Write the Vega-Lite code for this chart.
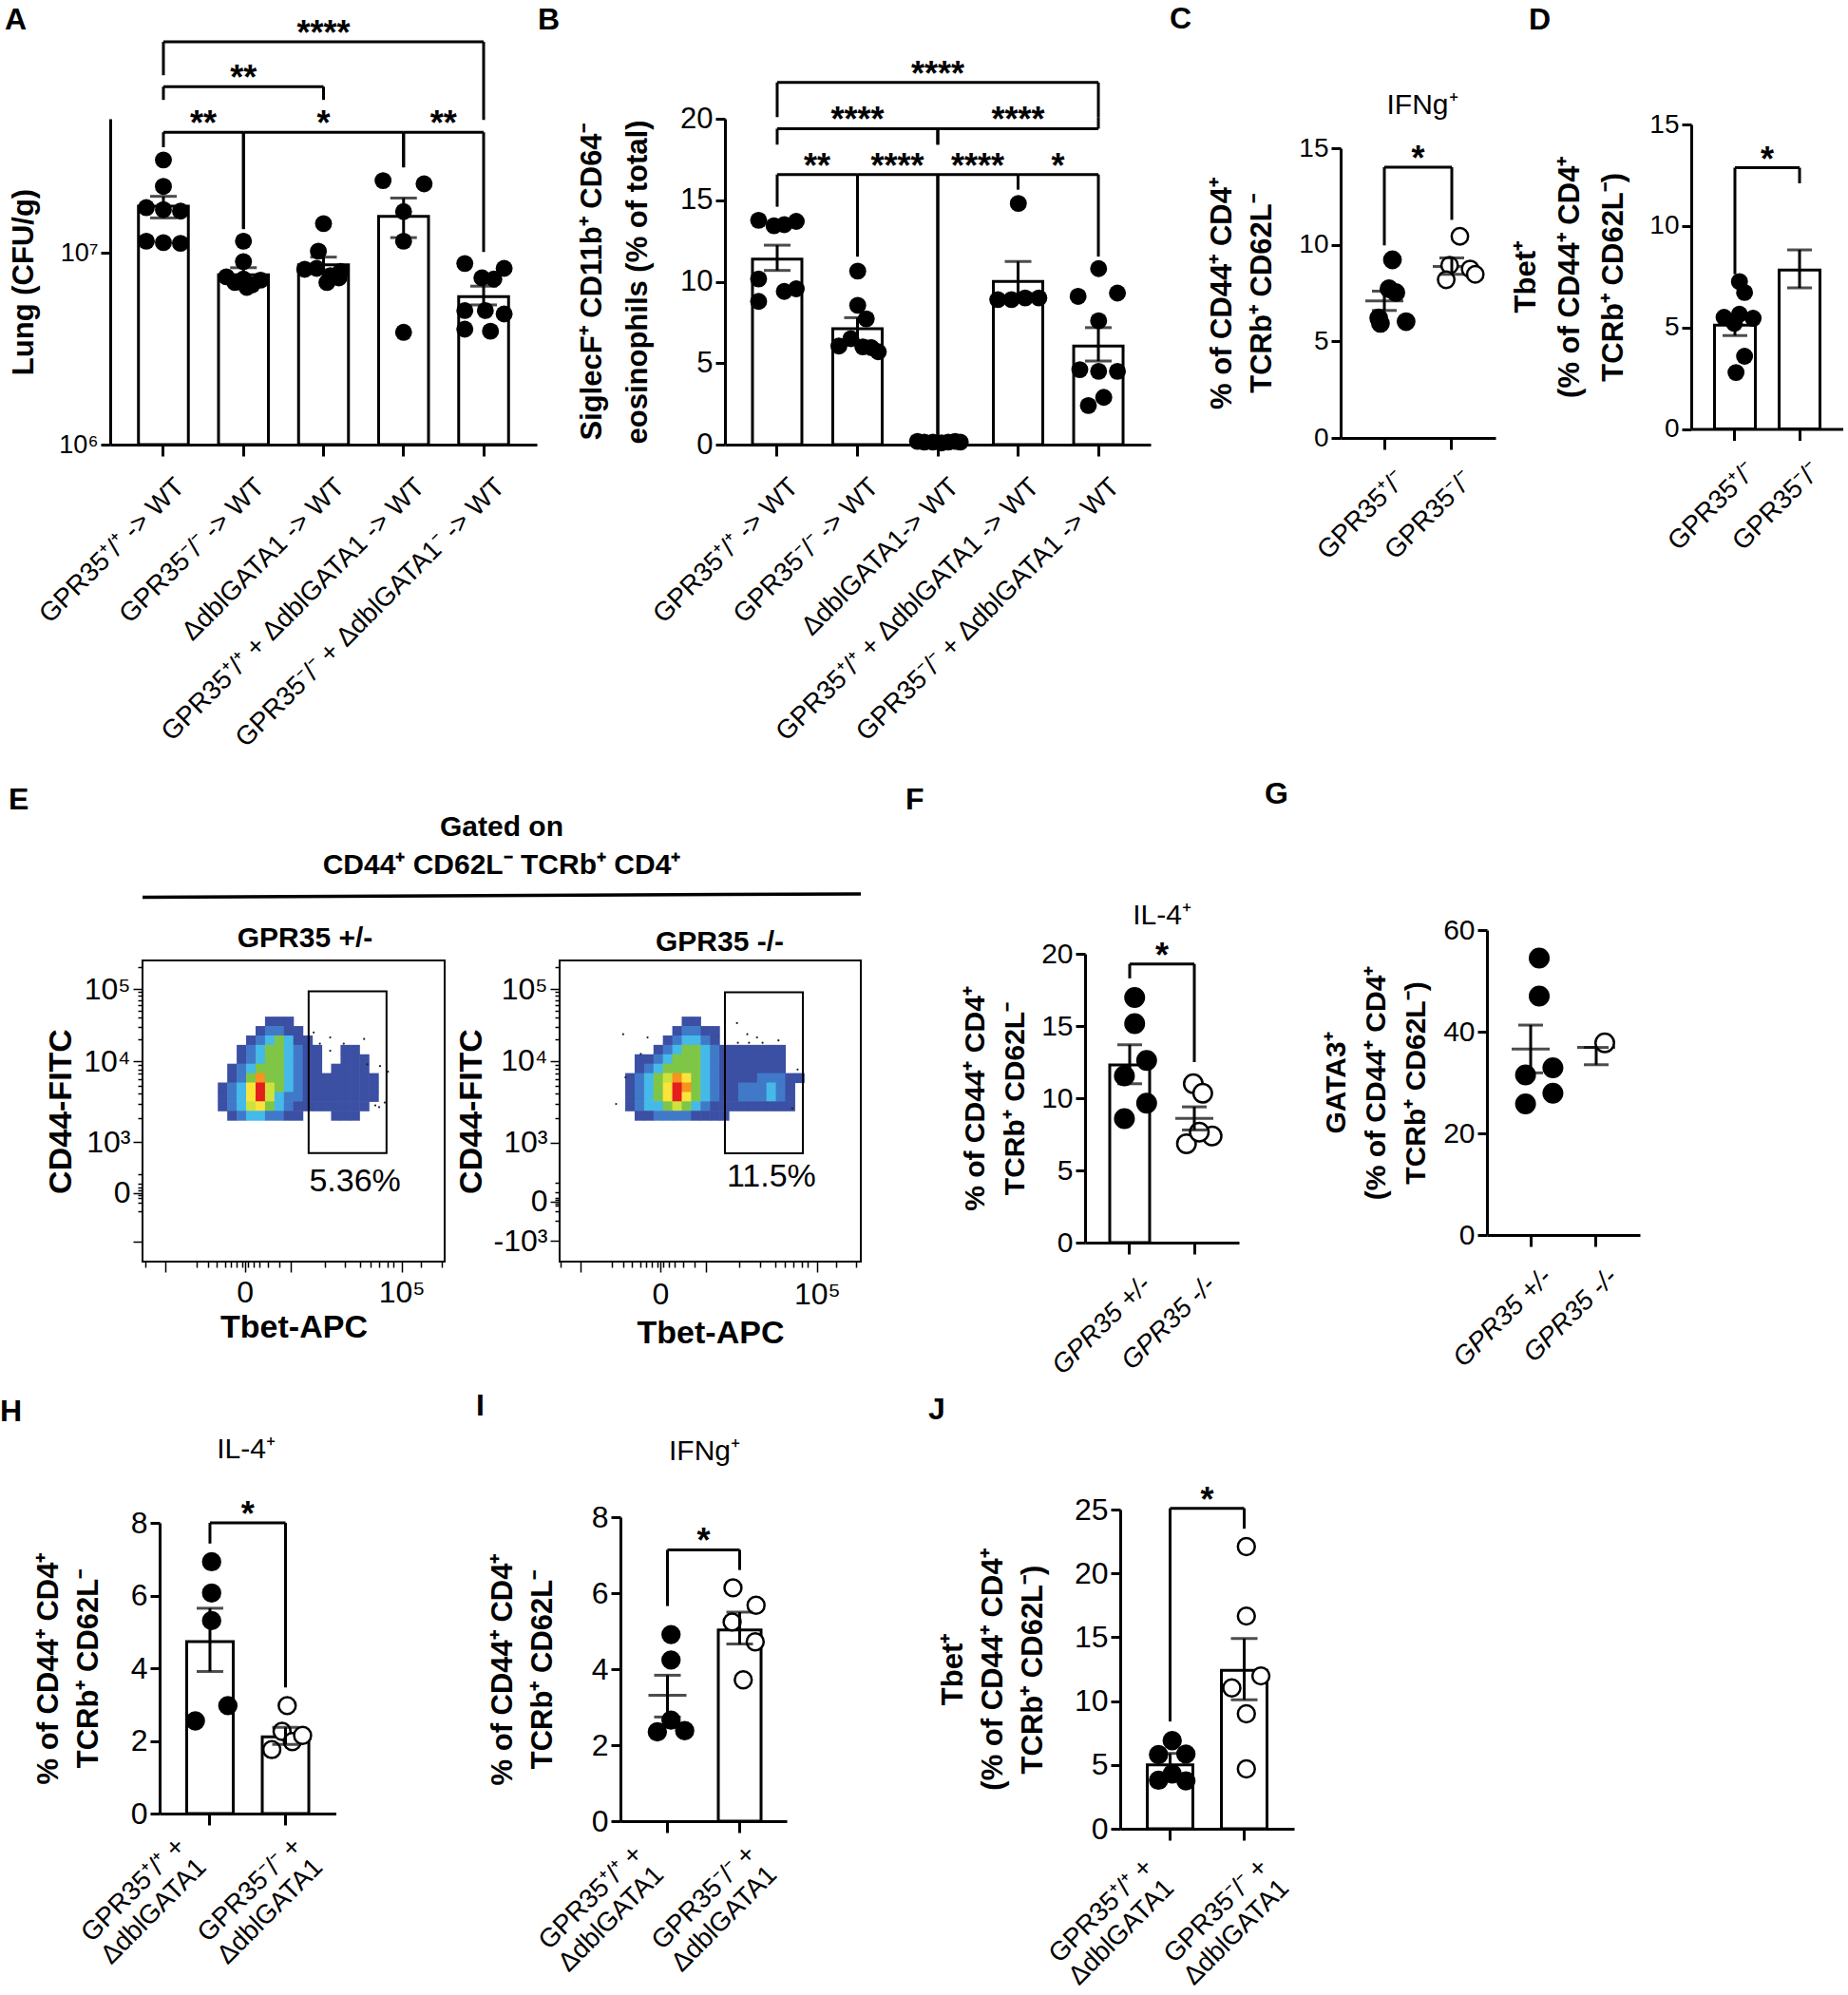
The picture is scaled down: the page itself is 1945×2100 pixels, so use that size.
{
"$schema": "https://vega.github.io/schema/vega-lite/v6.json",
"background": "white",
"padding": {"left": 0, "top": 4, "right": 0, "bottom": 0},
"bounds": "flush",
"spacing": 813,
"config": {
  "view": {"stroke": null},
  "font": "Liberation Sans",
  "axis": {"domainColor": "black", "domainWidth": 3, "tickColor": "black", "tickWidth": 3, "tickSize": 10, "labelColor": "black", "labelFont": "Liberation Sans", "titleFont": "Liberation Sans", "titleColor": "black", "titleFontWeight": "bold", "grid": false, "labelFlush": false, "labelOverlap": false, "labelBound": false, "labelPadding": 3, "labelLimit": 0},
  "title": {"font": "Liberation Sans", "color": "black", "fontWeight": "bold"},
  "text": {"font": "Liberation Sans", "color": "black"},
  "tick": {"color": "black"},
  "rule": {"color": "black"}
},
"datasets": {
  "A_pts": [
    {"g":"a1","v":30500000,"j":0},{"g":"a1","v":22200000,"j":0},{"g":"a1","v":17200000,"j":-1},{"g":"a1","v":16800000,"j":0},{"g":"a1","v":16500000,"j":1},{"g":"a1","v":11500000,"j":-1},{"g":"a1","v":11300000,"j":0},{"g":"a1","v":11200000,"j":1},
    {"g":"a2","v":11500000,"j":0},{"g":"a2","v":9000000,"j":0},{"g":"a2","v":7500000,"j":-1},{"g":"a2","v":7300000,"j":0},{"g":"a2","v":7200000,"j":1},{"g":"a2","v":7000000,"j":-0.5},{"g":"a2","v":6800000,"j":0.5},{"g":"a2","v":6600000,"j":0.2},
    {"g":"a3","v":14200000,"j":0},{"g":"a3","v":10200000,"j":-0.3},{"g":"a3","v":8200000,"j":-1.1},{"g":"a3","v":8300000,"j":-0.4},{"g":"a3","v":8000000,"j":1},{"g":"a3","v":7600000,"j":0.4},{"g":"a3","v":7400000,"j":0.9},{"g":"a3","v":7000000,"j":0.2},
    {"g":"a4","v":23800000,"j":-1.2},{"g":"a4","v":22900000,"j":1.2},{"g":"a4","v":16400000,"j":0},{"g":"a4","v":11500000,"j":0},{"g":"a4","v":3850000,"j":0},
    {"g":"a5","v":8800000,"j":-1.1},{"g":"a5","v":8300000,"j":1.2},{"g":"a5","v":7400000,"j":-0.1},{"g":"a5","v":7300000,"j":0.6},{"g":"a5","v":5000000,"j":-1.1},{"g":"a5","v":5000000,"j":0.1},{"g":"a5","v":4800000,"j":1.2},{"g":"a5","v":4000000,"j":-1.1},{"g":"a5","v":3900000,"j":0.4}
  ],
  "A_bar": [
    {"g":"a1","m":17500000,"lo":15200000,"hi":19700000},{"g":"a2","m":7670000,"lo":6900000,"hi":8360000},{"g":"a3","m":8660000,"lo":7800000,"hi":9500000},{"g":"a4","m":15500000,"lo":12000000,"hi":19300000},{"g":"a5","m":5900000,"lo":5350000,"hi":6700000}
  ],
  "A_br": [
    {"g1":"a1","g2":"a2","top":42500000,"b1":35500000,"b2":13300000,"s":"**","mid":""},
    {"g1":"a2","g2":"a4","top":42500000,"b1":13300000,"b2":27900000,"s":"*","mid":"a3"},
    {"g1":"a4","g2":"a5","top":42500000,"b1":27900000,"b2":10100000,"s":"**","mid":""},
    {"g1":"a1","g2":"a3","top":73500000,"b1":62700000,"b2":62700000,"s":"**","mid":"a2"},
    {"g1":"a1","g2":"a5","top":126000000,"b1":84300000,"b2":49300000,"s":"****","mid":"a3"}
  ],
  "B_pts": [
    {"g":"b1","v":13.77,"j":-1.1},{"g":"b1","v":13.43,"j":-0.2},{"g":"b1","v":13.5,"j":0.4},{"g":"b1","v":13.7,"j":1.1},{"g":"b1","v":10.17,"j":-1.1},{"g":"b1","v":8.79,"j":-1.1},{"g":"b1","v":9.4,"j":0.4},{"g":"b1","v":9.56,"j":1.1},
    {"g":"b2","v":10.65,"j":0},{"g":"b2","v":8.55,"j":0},{"g":"b2","v":7.72,"j":0.5},{"g":"b2","v":6.05,"j":-1.1},{"g":"b2","v":6.5,"j":-0.4},{"g":"b2","v":6.0,"j":0.3},{"g":"b2","v":5.7,"j":1.2},{"g":"b2","v":5.95,"j":0.8},
    {"g":"b3","v":0.2,"j":-1.2},{"g":"b3","v":0.15,"j":-0.8},{"g":"b3","v":0.15,"j":-0.3},{"g":"b3","v":0.1,"j":0.2},{"g":"b3","v":0.15,"j":0.6},{"g":"b3","v":0.2,"j":1.0},{"g":"b3","v":0.15,"j":1.3},
    {"g":"b4","v":14.8,"j":0},{"g":"b4","v":8.9,"j":-1.2},{"g":"b4","v":8.9,"j":-0.4},{"g":"b4","v":9.0,"j":0.4},{"g":"b4","v":9.0,"j":1.2},
    {"g":"b5","v":10.8,"j":0},{"g":"b5","v":9.1,"j":-1.2},{"g":"b5","v":9.3,"j":1.1},{"g":"b5","v":7.6,"j":0},{"g":"b5","v":4.6,"j":-1.1},{"g":"b5","v":4.5,"j":0},{"g":"b5","v":4.5,"j":1.1},{"g":"b5","v":2.4,"j":-0.6},{"g":"b5","v":2.9,"j":0.3}
  ],
  "B_bar": [
    {"g":"b1","m":11.39,"lo":10.69,"hi":12.24},{"g":"b2","m":7.11,"lo":6.35,"hi":7.79},{"g":"b3","m":0.15,"lo":0.1,"hi":0.2},{"g":"b4","m":10.02,"lo":8.9,"hi":11.24},{"g":"b5","m":6.05,"lo":5.13,"hi":7.18}
  ],
  "B_br": [
    {"g1":"b1","g2":"b2","top":16.58,"b1":14.6,"b2":11.54,"s":"**","mid":""},
    {"g1":"b2","g2":"b3","top":16.58,"b1":11.54,"b2":0.3,"s":"****","mid":""},
    {"g1":"b3","g2":"b4","top":16.58,"b1":0.3,"b2":15.66,"s":"****","mid":""},
    {"g1":"b4","g2":"b5","top":16.58,"b1":15.66,"b2":11.54,"s":"*","mid":""},
    {"g1":"b1","g2":"b3","top":19.39,"b1":18.41,"b2":18.41,"s":"****","mid":"b2"},
    {"g1":"b3","g2":"b5","top":19.39,"b1":18.41,"b2":20.1,"s":"****","mid":"b4"},
    {"g1":"b1","g2":"b5","top":22.23,"b1":20.1,"b2":20.1,"s":"****","mid":"b3"}
  ],
  "C_pts": [
    {"g":"c1","v":9.22,"j":0},{"g":"c1","v":7.72,"j":-0.2},{"g":"c1","v":7.53,"j":0.2},{"g":"c1","v":6.21,"j":-0.8},{"g":"c1","v":5.93,"j":-0.7},{"g":"c1","v":6.02,"j":0.8},
    {"g":"c2","v":10.44,"j":0},{"g":"c2","v":8.94,"j":-0.6},{"g":"c2","v":8.75,"j":0.6},{"g":"c2","v":8.19,"j":-0.8},{"g":"c2","v":8.47,"j":0.9}
  ],
  "C_mean": [{"g":"c1","m":7.1,"lo":6.6,"hi":7.6},{"g":"c2","m":8.88,"lo":8.47,"hi":9.32}],
  "D_pts": [
    {"g":"c1","v":7.26,"j":0},{"g":"c1","v":6.72,"j":0.3},{"g":"c1","v":5.5,"j":-0.9},{"g":"c1","v":5.65,"j":0},{"g":"c1","v":5.45,"j":0.8},{"g":"c1","v":5.2,"j":-0.3},{"g":"c1","v":3.58,"j":0.3},{"g":"c1","v":2.78,"j":-0.2}
  ],
  "D_bar": [{"g":"c1","m":5.11,"lo":4.6,"hi":5.6},{"g":"c2","m":7.83,"lo":6.95,"hi":8.82}],
  "F_pts": [
    {"g":"f1","v":16.97,"j":0},{"g":"f1","v":15.17,"j":0},{"g":"f1","v":12.62,"j":0.7},{"g":"f1","v":11.54,"j":-0.6},{"g":"f1","v":9.66,"j":0.7},{"g":"f1","v":8.59,"j":-0.6},
    {"g":"f2","v":11.0,"j":-0.35},{"g":"f2","v":10.34,"j":0.2},{"g":"f2","v":6.85,"j":-0.75},{"g":"f2","v":7.38,"j":0.75},{"g":"f2","v":7.65,"j":0}
  ],
  "F_bar": [{"g":"f1","m":12.3,"lo":11.0,"hi":13.7}],
  "F_mean": [{"g":"f2","m":8.6,"lo":7.8,"hi":9.4}],
  "G_pts": [
    {"g":"f1","v":54.5,"j":0},{"g":"f1","v":47.0,"j":0},{"g":"f1","v":31.5,"j":-0.8},{"g":"f1","v":32.9,"j":0.8},{"g":"f1","v":27.9,"j":0.8},{"g":"f1","v":25.8,"j":-0.8},
    {"g":"f2","v":37.8,"j":0}
  ],
  "G_mean": [{"g":"f1","m":36.6,"lo":31.9,"hi":41.3},{"g":"f2","m":36.9,"lo":33.5,"hi":36.9}],
  "H_pts": [
    {"g":"h1","v":6.93,"j":0},{"g":"h1","v":6.07,"j":0},{"g":"h1","v":5.31,"j":0},{"g":"h1","v":2.97,"j":0.95},{"g":"h1","v":2.55,"j":-0.95},
    {"g":"h2","v":2.97,"j":0},{"g":"h2","v":1.76,"j":-0.9},{"g":"h2","v":2.26,"j":-0.3},{"g":"h2","v":1.98,"j":0.3},{"g":"h2","v":2.15,"j":0.9}
  ],
  "H_bar": [{"g":"h1","m":4.73,"lo":3.91,"hi":5.65},{"g":"h2","m":2.11,"lo":1.9,"hi":2.37}],
  "I_pts": [
    {"g":"h1","v":4.91,"j":0},{"g":"h1","v":4.24,"j":0},{"g":"h1","v":2.66,"j":0},{"g":"h1","v":2.35,"j":-0.8},{"g":"h1","v":2.38,"j":0.8},
    {"g":"h2","v":6.14,"j":-0.6},{"g":"h2","v":5.68,"j":0.75},{"g":"h2","v":5.24,"j":-0.65},{"g":"h2","v":4.72,"j":0.7},{"g":"h2","v":3.72,"j":0}
  ],
  "I_bar": [{"g":"h2","m":5.03,"lo":4.66,"hi":5.5}],
  "I_mean": [{"g":"h1","m":3.31,"lo":2.74,"hi":3.84}],
  "J_pts": [
    {"g":"h1","v":6.9,"j":0},{"g":"h1","v":5.8,"j":-0.8},{"g":"h1","v":5.85,"j":0.8},{"g":"h1","v":3.8,"j":-0.8},{"g":"h1","v":3.75,"j":0.8},{"g":"h1","v":4.3,"j":0},
    {"g":"h2","v":22.1,"j":0},{"g":"h2","v":16.66,"j":0},{"g":"h2","v":11.97,"j":0.85},{"g":"h2","v":11.03,"j":-0.85},{"g":"h2","v":9.0,"j":0},{"g":"h2","v":4.69,"j":0}
  ],
  "J_bar": [{"g":"h1","m":5.0,"lo":4.2,"hi":5.9},{"g":"h2","m":12.4,"lo":10.1,"hi":14.9}],
  "E1c": [
    {"x":432,"y":816,"d":1},{"x":464,"y":816,"d":1},{"x":496,"y":816,"d":1},
    {"x":400,"y":784,"d":1},{"x":432,"y":784,"d":2},{"x":464,"y":784,"d":2},{"x":496,"y":784,"d":1},{"x":528,"y":784,"d":1},
    {"x":368,"y":752,"d":1},{"x":400,"y":752,"d":2},{"x":432,"y":752,"d":3},{"x":464,"y":752,"d":4},{"x":496,"y":752,"d":3},{"x":528,"y":752,"d":1},{"x":560,"y":752,"d":1},
    {"x":336,"y":720,"d":1},{"x":368,"y":720,"d":2},{"x":400,"y":720,"d":3},{"x":432,"y":720,"d":4},{"x":464,"y":720,"d":4},{"x":496,"y":720,"d":3},{"x":528,"y":720,"d":2},{"x":560,"y":720,"d":1},{"x":592,"y":720,"d":1},{"x":688,"y":720,"d":1},{"x":720,"y":720,"d":1},
    {"x":336,"y":688,"d":1},{"x":368,"y":688,"d":2},{"x":400,"y":688,"d":3},{"x":432,"y":688,"d":4},{"x":464,"y":688,"d":4},{"x":496,"y":688,"d":3},{"x":528,"y":688,"d":2},{"x":560,"y":688,"d":1},{"x":592,"y":688,"d":1},{"x":688,"y":688,"d":1},{"x":720,"y":688,"d":1},{"x":752,"y":688,"d":1},
    {"x":304,"y":656,"d":1},{"x":336,"y":656,"d":2},{"x":368,"y":656,"d":3},{"x":400,"y":656,"d":4},{"x":432,"y":656,"d":4},{"x":464,"y":656,"d":4},{"x":496,"y":656,"d":3},{"x":528,"y":656,"d":2},{"x":560,"y":656,"d":1},{"x":592,"y":656,"d":1},{"x":656,"y":656,"d":1},{"x":688,"y":656,"d":1},{"x":720,"y":656,"d":1},{"x":752,"y":656,"d":1},
    {"x":304,"y":624,"d":1},{"x":336,"y":624,"d":2},{"x":368,"y":624,"d":4},{"x":400,"y":624,"d":7},{"x":432,"y":624,"d":4},{"x":464,"y":624,"d":4},{"x":496,"y":624,"d":3},{"x":528,"y":624,"d":2},{"x":560,"y":624,"d":1},{"x":592,"y":624,"d":1},{"x":624,"y":624,"d":1},{"x":656,"y":624,"d":1},{"x":688,"y":624,"d":1},{"x":720,"y":624,"d":1},{"x":752,"y":624,"d":1},{"x":784,"y":624,"d":1},
    {"x":272,"y":592,"d":1},{"x":304,"y":592,"d":2},{"x":336,"y":592,"d":3},{"x":368,"y":592,"d":6},{"x":400,"y":592,"d":8},{"x":432,"y":592,"d":5},{"x":464,"y":592,"d":4},{"x":496,"y":592,"d":3},{"x":528,"y":592,"d":2},{"x":560,"y":592,"d":1},{"x":592,"y":592,"d":1},{"x":624,"y":592,"d":1},{"x":656,"y":592,"d":1},{"x":688,"y":592,"d":1},{"x":720,"y":592,"d":1},{"x":752,"y":592,"d":1},{"x":784,"y":592,"d":1},
    {"x":272,"y":560,"d":1},{"x":304,"y":560,"d":2},{"x":336,"y":560,"d":3},{"x":368,"y":560,"d":6},{"x":400,"y":560,"d":8},{"x":432,"y":560,"d":5},{"x":464,"y":560,"d":3},{"x":496,"y":560,"d":2},{"x":528,"y":560,"d":2},{"x":560,"y":560,"d":1},{"x":592,"y":560,"d":1},{"x":624,"y":560,"d":1},{"x":656,"y":560,"d":1},{"x":688,"y":560,"d":1},{"x":720,"y":560,"d":1},{"x":752,"y":560,"d":1},{"x":784,"y":560,"d":1},
    {"x":272,"y":528,"d":1},{"x":304,"y":528,"d":2},{"x":336,"y":528,"d":3},{"x":368,"y":528,"d":5},{"x":400,"y":528,"d":6},{"x":432,"y":528,"d":4},{"x":464,"y":528,"d":3},{"x":496,"y":528,"d":2},{"x":528,"y":528,"d":1},{"x":560,"y":528,"d":1},{"x":592,"y":528,"d":1},{"x":624,"y":528,"d":1},{"x":656,"y":528,"d":1},{"x":688,"y":528,"d":1},{"x":720,"y":528,"d":1},{"x":752,"y":528,"d":1},
    {"x":304,"y":496,"d":1},{"x":336,"y":496,"d":2},{"x":368,"y":496,"d":3},{"x":400,"y":496,"d":3},{"x":432,"y":496,"d":2},{"x":464,"y":496,"d":2},{"x":496,"y":496,"d":1},{"x":528,"y":496,"d":1},{"x":656,"y":496,"d":1},{"x":688,"y":496,"d":1},{"x":720,"y":496,"d":1}
  ],
  "E2c": [
    {"x":432,"y":816,"d":1},{"x":464,"y":816,"d":1},
    {"x":400,"y":784,"d":1},{"x":432,"y":784,"d":2},{"x":464,"y":784,"d":2},{"x":496,"y":784,"d":1},{"x":528,"y":784,"d":1},
    {"x":368,"y":752,"d":1},{"x":400,"y":752,"d":2},{"x":432,"y":752,"d":3},{"x":464,"y":752,"d":3},{"x":496,"y":752,"d":2},{"x":528,"y":752,"d":1},
    {"x":336,"y":720,"d":1},{"x":368,"y":720,"d":2},{"x":400,"y":720,"d":3},{"x":432,"y":720,"d":4},{"x":464,"y":720,"d":4},{"x":496,"y":720,"d":3},{"x":528,"y":720,"d":2},{"x":560,"y":720,"d":1},{"x":592,"y":720,"d":1},{"x":624,"y":720,"d":1},{"x":656,"y":720,"d":1},{"x":688,"y":720,"d":1},{"x":720,"y":720,"d":1},{"x":752,"y":720,"d":1},
    {"x":272,"y":688,"d":1},{"x":304,"y":688,"d":1},{"x":336,"y":688,"d":2},{"x":368,"y":688,"d":3},{"x":400,"y":688,"d":4},{"x":432,"y":688,"d":4},{"x":464,"y":688,"d":4},{"x":496,"y":688,"d":3},{"x":528,"y":688,"d":2},{"x":560,"y":688,"d":1},{"x":592,"y":688,"d":1},{"x":624,"y":688,"d":1},{"x":656,"y":688,"d":1},{"x":688,"y":688,"d":1},{"x":720,"y":688,"d":1},{"x":752,"y":688,"d":1},
    {"x":272,"y":656,"d":1},{"x":304,"y":656,"d":2},{"x":336,"y":656,"d":3},{"x":368,"y":656,"d":4},{"x":400,"y":656,"d":4},{"x":432,"y":656,"d":4},{"x":464,"y":656,"d":4},{"x":496,"y":656,"d":3},{"x":528,"y":656,"d":2},{"x":560,"y":656,"d":1},{"x":592,"y":656,"d":1},{"x":624,"y":656,"d":1},{"x":656,"y":656,"d":1},{"x":688,"y":656,"d":1},{"x":720,"y":656,"d":1},{"x":752,"y":656,"d":1},
    {"x":240,"y":624,"d":1},{"x":272,"y":624,"d":2},{"x":304,"y":624,"d":3},{"x":336,"y":624,"d":4},{"x":368,"y":624,"d":5},{"x":400,"y":624,"d":7},{"x":432,"y":624,"d":6},{"x":464,"y":624,"d":4},{"x":496,"y":624,"d":3},{"x":528,"y":624,"d":2},{"x":560,"y":624,"d":1},{"x":592,"y":624,"d":1},{"x":624,"y":624,"d":1},{"x":656,"y":624,"d":1},{"x":688,"y":624,"d":2},{"x":720,"y":624,"d":2},{"x":752,"y":624,"d":2},{"x":784,"y":624,"d":1},{"x":816,"y":624,"d":1},
    {"x":240,"y":592,"d":1},{"x":272,"y":592,"d":2},{"x":304,"y":592,"d":3},{"x":336,"y":592,"d":4},{"x":368,"y":592,"d":6},{"x":400,"y":592,"d":8},{"x":432,"y":592,"d":7},{"x":464,"y":592,"d":4},{"x":496,"y":592,"d":3},{"x":528,"y":592,"d":2},{"x":560,"y":592,"d":1},{"x":592,"y":592,"d":1},{"x":624,"y":592,"d":2},{"x":656,"y":592,"d":2},{"x":688,"y":592,"d":2},{"x":720,"y":592,"d":3},{"x":752,"y":592,"d":2},{"x":784,"y":592,"d":1},
    {"x":240,"y":560,"d":1},{"x":272,"y":560,"d":2},{"x":304,"y":560,"d":3},{"x":336,"y":560,"d":4},{"x":368,"y":560,"d":6},{"x":400,"y":560,"d":8},{"x":432,"y":560,"d":6},{"x":464,"y":560,"d":4},{"x":496,"y":560,"d":3},{"x":528,"y":560,"d":2},{"x":560,"y":560,"d":1},{"x":592,"y":560,"d":1},{"x":624,"y":560,"d":2},{"x":656,"y":560,"d":2},{"x":688,"y":560,"d":2},{"x":720,"y":560,"d":3},{"x":752,"y":560,"d":2},{"x":784,"y":560,"d":1},
    {"x":240,"y":528,"d":1},{"x":272,"y":528,"d":2},{"x":304,"y":528,"d":3},{"x":336,"y":528,"d":3},{"x":368,"y":528,"d":4},{"x":400,"y":528,"d":5},{"x":432,"y":528,"d":4},{"x":464,"y":528,"d":3},{"x":496,"y":528,"d":2},{"x":528,"y":528,"d":1},{"x":560,"y":528,"d":1},{"x":592,"y":528,"d":1},{"x":624,"y":528,"d":1},{"x":656,"y":528,"d":1},{"x":688,"y":528,"d":1},{"x":720,"y":528,"d":1},{"x":752,"y":528,"d":1},{"x":784,"y":528,"d":1},
    {"x":272,"y":496,"d":1},{"x":304,"y":496,"d":1},{"x":336,"y":496,"d":2},{"x":368,"y":496,"d":2},{"x":400,"y":496,"d":2},{"x":432,"y":496,"d":2},{"x":464,"y":496,"d":1},{"x":496,"y":496,"d":1},{"x":528,"y":496,"d":1},{"x":560,"y":496,"d":1}
  ],
  "E1o": [{"x":580,"y":779},{"x":636,"y":762},{"x":601,"y":741},{"x":636,"y":717},{"x":682,"y":741},{"x":751,"y":757},{"x":762,"y":671},{"x":805,"y":665},{"x":789,"y":531},{"x":802,"y":525},{"x":821,"y":541},{"x":832,"y":646}],
  "E2o": [{"x":216,"y":773},{"x":299,"y":762},{"x":276,"y":706},{"x":224,"y":626},{"x":192,"y":536},{"x":603,"y":811},{"x":638,"y":773},{"x":671,"y":762},{"x":606,"y":744},{"x":644,"y":744},{"x":690,"y":744},{"x":744,"y":752},{"x":809,"y":653},{"x":791,"y":521}]
},
"vconcat": [
{"hconcat": [
{
 "width": 647, "height": 343,
 "title": {"text": "A", "anchor": "start", "frame": "group", "dx": -111, "fontSize": 32, "offset": -20},
 "layer": [
  {"data": {"name": "A_bar"}, "mark": {"type": "bar", "fill": "white", "stroke": "black", "strokeWidth": 3, "width": 52.5},
   "encoding": {
    "x": {"field": "g", "type": "nominal", "scale": {"domain": ["a1","a2","a3","a4","a5"], "range": [0, 449], "paddingInner": 0.377, "paddingOuter": 0.353},
      "axis": {"title": null, "labelAngle": -45, "labelAlign": "right", "labelBaseline": "top", "labelFontSize": 28, "labelPadding": 18, "labelOffset": 8, "tickSize": 12,
        "labelExpr": "datum.value=='a1'?'GPR35⁺/⁺ -> WT':datum.value=='a2'?'GPR35⁻/⁻ -> WT':datum.value=='a3'?'ΔdblGATA1 -> WT':datum.value=='a4'?'GPR35⁺/⁺ + ΔdblGATA1 -> WT':'GPR35⁻/⁻ + ΔdblGATA1⁻ -> WT'"}},
    "y": {"field": "m", "type": "quantitative", "scale": {"type": "log", "domain": [1000000, 50000000], "range": [343, 0], "nice": false},
      "axis": {"title": "Lung (CFU/g)", "values": [1000000, 10000000], "labelExpr": "datum.value > 5000000 ? '10⁷' : '10⁶'", "labelFontSize": 27, "titleFontSize": 31, "titlePadding": 20}},
    "y2": {"datum": 1000000}
   }},
  {"data": {"name": "A_pts"}, "mark": {"type": "circle", "size": 320, "color": "black", "opacity": 1},
   "encoding": {"x": {"field": "g", "type": "nominal"}, "xOffset": {"field": "j", "type": "quantitative", "scale": {"domain": [-1, 1], "range": [8.25, 44.25]}}, "y": {"field": "v", "type": "quantitative"}}},
  {"data": {"name": "A_bar"}, "mark": {"type": "rule", "strokeWidth": 3}, "encoding": {"x": {"field": "g", "type": "nominal"}, "y": {"field": "lo", "type": "quantitative"}, "y2": {"field": "hi"}}},
  {"data": {"name": "A_bar"}, "mark": {"type": "tick", "orient": "horizontal", "size": 28, "thickness": 3}, "encoding": {"x": {"field": "g", "type": "nominal"}, "y": {"field": "lo", "type": "quantitative"}}},
  {"data": {"name": "A_bar"}, "mark": {"type": "tick", "orient": "horizontal", "size": 28, "thickness": 3}, "encoding": {"x": {"field": "g", "type": "nominal"}, "y": {"field": "hi", "type": "quantitative"}}},
  {"data": {"name": "A_br"}, "mark": {"type": "rule", "strokeWidth": 3}, "encoding": {"x": {"field": "g1", "type": "nominal"}, "x2": {"field": "g2"}, "y": {"field": "top", "type": "quantitative"}}},
  {"data": {"name": "A_br"}, "mark": {"type": "rule", "strokeWidth": 3}, "encoding": {"x": {"field": "g1", "type": "nominal"}, "y": {"field": "top", "type": "quantitative"}, "y2": {"field": "b1"}}},
  {"data": {"name": "A_br"}, "mark": {"type": "rule", "strokeWidth": 3}, "encoding": {"x": {"field": "g2", "type": "nominal"}, "y": {"field": "top", "type": "quantitative"}, "y2": {"field": "b2"}}},
  {"data": {"name": "A_br"}, "transform": [{"filter": "datum.mid != ''"}], "mark": {"type": "text", "fontSize": 36, "fontWeight": "bold", "baseline": "alphabetic", "dy": 3},
   "encoding": {"x": {"field": "mid", "type": "nominal"}, "y": {"field": "top", "type": "quantitative"}, "text": {"field": "s"}}},
  {"data": {"name": "A_br"}, "transform": [{"filter": "datum.mid == ''"}], "mark": {"type": "text", "fontSize": 36, "fontWeight": "bold", "baseline": "alphabetic", "dy": 3, "dx": 42},
   "encoding": {"x": {"field": "g1", "type": "nominal"}, "y": {"field": "top", "type": "quantitative"}, "text": {"field": "s"}}}
 ]
},
{
 "width": 648, "height": 343,
 "title": {"text": "B", "anchor": "start", "frame": "group", "dx": -197, "fontSize": 32, "offset": 23},
 "layer": [
  {"data": {"name": "B_bar"}, "mark": {"type": "bar", "fill": "white", "stroke": "black", "strokeWidth": 3, "width": 52},
   "encoding": {
    "x": {"field": "g", "type": "nominal", "scale": {"domain": ["b1","b2","b3","b4","b5"], "range": [0, 448], "paddingInner": 0.385, "paddingOuter": 0.343},
      "axis": {"title": null, "labelAngle": -45, "labelAlign": "right", "labelBaseline": "top", "labelFontSize": 28, "labelPadding": 18, "labelOffset": 8, "tickSize": 12,
        "labelExpr": "datum.value=='b1'?'GPR35⁺/⁺ -> WT':datum.value=='b2'?'GPR35⁻/⁻ -> WT':datum.value=='b3'?'ΔdblGATA1-> WT':datum.value=='b4'?'GPR35⁺/⁺ + ΔdblGATA1 -> WT':'GPR35⁻/⁻ + ΔdblGATA1 -> WT'"}},
    "y": {"field": "m", "type": "quantitative", "scale": {"domain": [0, 20], "range": [343, 0], "nice": false, "zero": false},
      "axis": {"title": ["SiglecF⁺ CD11b⁺ CD64⁻", "eosinophils (% of total)"], "values": [0,5,10,15,20], "labelFontSize": 31, "titleFontSize": 31, "titlePadding": 28, "titleLineHeight": 48}}
   }},
  {"data": {"name": "B_pts"}, "mark": {"type": "circle", "size": 320, "color": "black", "opacity": 1},
   "encoding": {"x": {"field": "g", "type": "nominal"}, "xOffset": {"field": "j", "type": "quantitative", "scale": {"domain": [-1, 1], "range": [8, 44]}}, "y": {"field": "v", "type": "quantitative"}}},
  {"data": {"name": "B_bar"}, "mark": {"type": "rule", "strokeWidth": 3}, "encoding": {"x": {"field": "g", "type": "nominal"}, "y": {"field": "lo", "type": "quantitative"}, "y2": {"field": "hi"}}},
  {"data": {"name": "B_bar"}, "mark": {"type": "tick", "orient": "horizontal", "size": 28, "thickness": 3}, "encoding": {"x": {"field": "g", "type": "nominal"}, "y": {"field": "lo", "type": "quantitative"}}},
  {"data": {"name": "B_bar"}, "mark": {"type": "tick", "orient": "horizontal", "size": 28, "thickness": 3}, "encoding": {"x": {"field": "g", "type": "nominal"}, "y": {"field": "hi", "type": "quantitative"}}},
  {"data": {"name": "B_br"}, "mark": {"type": "rule", "strokeWidth": 3}, "encoding": {"x": {"field": "g1", "type": "nominal"}, "x2": {"field": "g2"}, "y": {"field": "top", "type": "quantitative"}}},
  {"data": {"name": "B_br"}, "mark": {"type": "rule", "strokeWidth": 3}, "encoding": {"x": {"field": "g1", "type": "nominal"}, "y": {"field": "top", "type": "quantitative"}, "y2": {"field": "b1"}}},
  {"data": {"name": "B_br"}, "mark": {"type": "rule", "strokeWidth": 3}, "encoding": {"x": {"field": "g2", "type": "nominal"}, "y": {"field": "top", "type": "quantitative"}, "y2": {"field": "b2"}}},
  {"data": {"name": "B_br"}, "transform": [{"filter": "datum.mid != ''"}], "mark": {"type": "text", "fontSize": 36, "fontWeight": "bold", "baseline": "alphabetic", "dy": 3},
   "encoding": {"x": {"field": "mid", "type": "nominal"}, "y": {"field": "top", "type": "quantitative"}, "text": {"field": "s"}}},
  {"data": {"name": "B_br"}, "transform": [{"filter": "datum.mid == ''"}], "mark": {"type": "text", "fontSize": 36, "fontWeight": "bold", "baseline": "alphabetic", "dy": 3, "dx": 42},
   "encoding": {"x": {"field": "g1", "type": "nominal"}, "y": {"field": "top", "type": "quantitative"}, "text": {"field": "s"}}}
 ]
},
{
 "width": 369, "height": 336,
 "title": {"text": "C", "anchor": "start", "frame": "group", "dx": -180, "fontSize": 32, "offset": 59},
 "layer": [
  {"data": {"name": "C_mean"}, "mark": {"type": "tick", "orient": "horizontal", "size": 40, "thickness": 3},
   "encoding": {
    "x": {"field": "g", "type": "nominal", "scale": {"domain": ["c1","c2"], "range": [0, 163], "paddingInner": 0.5, "paddingOuter": 0.398},
      "axis": {"title": null, "labelAngle": -45, "labelAlign": "right", "labelBaseline": "top", "labelFontSize": 28, "labelPadding": 18, "labelOffset": 8, "tickSize": 12,
        "labelExpr": "datum.value=='c1'?'GPR35⁺/⁻':'GPR35⁻/⁻'"}},
    "y": {"field": "m", "type": "quantitative", "scale": {"domain": [0, 15], "range": [336, 31], "nice": false, "zero": false},
      "axis": {"title": ["% of CD44⁺ CD4⁺", "TCRb⁺ CD62L⁻"], "values": [0,5,10,15], "labelFontSize": 28, "titleFontSize": 31, "titlePadding": 22, "titleLineHeight": 42}}
   }},
  {"data": {"name": "C_pts"}, "mark": {"type": "circle", "size": 300, "stroke": "black", "strokeWidth": 2.5, "opacity": 1},
   "encoding": {"x": {"field": "g", "type": "nominal"}, "xOffset": {"field": "j", "type": "quantitative", "scale": {"domain": [-1, 1], "range": [-0.25, 35.75]}}, "y": {"field": "v", "type": "quantitative"},
     "fill": {"field": "g", "type": "nominal", "scale": {"domain": ["c1","c2"], "range": ["black","white"]}, "legend": null}}},
  {"data": {"name": "C_mean"}, "mark": {"type": "rule", "strokeWidth": 3}, "encoding": {"x": {"field": "g", "type": "nominal"}, "y": {"field": "lo", "type": "quantitative"}, "y2": {"field": "hi"}}},
  {"data": {"name": "C_mean"}, "mark": {"type": "tick", "orient": "horizontal", "size": 26, "thickness": 3}, "encoding": {"x": {"field": "g", "type": "nominal"}, "y": {"field": "lo", "type": "quantitative"}}},
  {"data": {"name": "C_mean"}, "mark": {"type": "tick", "orient": "horizontal", "size": 26, "thickness": 3}, "encoding": {"x": {"field": "g", "type": "nominal"}, "y": {"field": "hi", "type": "quantitative"}}},
  {"data": {"values": [{"g1":"c1","g2":"c2","top":14.02,"b1":9.97,"b2":11.29,"s":"*"}]}, "layer": [
    {"mark": {"type": "rule", "strokeWidth": 3}, "encoding": {"x": {"field": "g1", "type": "nominal"}, "x2": {"field": "g2"}, "y": {"field": "top", "type": "quantitative"}}},
    {"mark": {"type": "rule", "strokeWidth": 3}, "encoding": {"x": {"field": "g1", "type": "nominal"}, "y": {"field": "top", "type": "quantitative"}, "y2": {"field": "b1"}}},
    {"mark": {"type": "rule", "strokeWidth": 3}, "encoding": {"x": {"field": "g2", "type": "nominal"}, "y": {"field": "top", "type": "quantitative"}, "y2": {"field": "b2"}}},
    {"mark": {"type": "text", "fontSize": 36, "fontWeight": "bold", "baseline": "alphabetic", "dy": 3, "dx": 35.5}, "encoding": {"x": {"field": "g1", "type": "nominal"}, "y": {"field": "top", "type": "quantitative"}, "text": {"field": "s"}}}
  ]},
  {"data": {"values": [{"g":"c1","v":16.77,"s":"IFNg⁺"}]}, "mark": {"type": "text", "fontSize": 30, "baseline": "alphabetic", "dx": 40},
   "encoding": {"x": {"field": "g", "type": "nominal"}, "y": {"field": "v", "type": "quantitative"}, "text": {"field": "s"}}}
 ]
},
{
 "width": 150, "height": 326.5,
 "title": {"text": "D", "anchor": "start", "frame": "group", "dx": -171, "fontSize": 32, "offset": 79},
 "layer": [
  {"data": {"name": "D_bar"}, "mark": {"type": "bar", "fill": "white", "stroke": "black", "strokeWidth": 3, "width": 43},
   "encoding": {
    "x": {"field": "g", "type": "nominal", "scale": {"domain": ["c1","c2"], "range": [0, 160], "paddingInner": 0.368, "paddingOuter": 0.36},
      "axis": {"title": null, "labelAngle": -45, "labelAlign": "right", "labelBaseline": "top", "labelFontSize": 28, "labelPadding": 18, "labelOffset": 8, "tickSize": 12,
        "labelExpr": "datum.value=='c1'?'GPR35⁺/⁻':'GPR35⁻/⁻'"}},
    "y": {"field": "m", "type": "quantitative", "scale": {"domain": [0, 15], "range": [326.5, 6], "nice": false, "zero": false},
      "axis": {"title": ["Tbet⁺", "(% of CD44⁺ CD4⁺", "TCRb⁺ CD62L⁻)"], "values": [0,5,10,15], "labelFontSize": 28, "titleFontSize": 31, "titlePadding": 21, "titleLineHeight": 46}}
   }},
  {"data": {"name": "D_pts"}, "mark": {"type": "circle", "size": 320, "color": "black", "opacity": 1},
   "encoding": {"x": {"field": "g", "type": "nominal"}, "xOffset": {"field": "j", "type": "quantitative", "scale": {"domain": [-1, 1], "range": [3.5, 39.5]}}, "y": {"field": "v", "type": "quantitative"}}},
  {"data": {"name": "D_bar"}, "mark": {"type": "rule", "strokeWidth": 3}, "encoding": {"x": {"field": "g", "type": "nominal"}, "y": {"field": "lo", "type": "quantitative"}, "y2": {"field": "hi"}}},
  {"data": {"name": "D_bar"}, "mark": {"type": "tick", "orient": "horizontal", "size": 26, "thickness": 3}, "encoding": {"x": {"field": "g", "type": "nominal"}, "y": {"field": "lo", "type": "quantitative"}}},
  {"data": {"name": "D_bar"}, "mark": {"type": "tick", "orient": "horizontal", "size": 26, "thickness": 3}, "encoding": {"x": {"field": "g", "type": "nominal"}, "y": {"field": "hi", "type": "quantitative"}}},
  {"data": {"values": [{"g1":"c1","g2":"c2","top":12.87,"b1":7.62,"b2":12.1,"s":"*"}]}, "layer": [
    {"mark": {"type": "rule", "strokeWidth": 3}, "encoding": {"x": {"field": "g1", "type": "nominal"}, "x2": {"field": "g2"}, "y": {"field": "top", "type": "quantitative"}}},
    {"mark": {"type": "rule", "strokeWidth": 3}, "encoding": {"x": {"field": "g1", "type": "nominal"}, "y": {"field": "top", "type": "quantitative"}, "y2": {"field": "b1"}}},
    {"mark": {"type": "rule", "strokeWidth": 3}, "encoding": {"x": {"field": "g2", "type": "nominal"}, "y": {"field": "top", "type": "quantitative"}, "y2": {"field": "b2"}}},
    {"mark": {"type": "text", "fontSize": 36, "fontWeight": "bold", "baseline": "alphabetic", "dy": 3, "dx": 34}, "encoding": {"x": {"field": "g1", "type": "nominal"}, "y": {"field": "top", "type": "quantitative"}, "text": {"field": "s"}}}
  ]}
 ]
}
], "spacing": 0, "bounds": "flush"},
{"vconcat": [
{"hconcat": [
 {"width": 34, "height": 2, "data": {"values": [{"a": 0}]}, "mark": {"type": "point", "opacity": 0}, "encoding": {}},
 {
  "title": {"text": "E", "anchor": "start", "frame": "group", "dx": -141, "fontSize": 32, "offset": -3},
  "vconcat": [
   {
    "width": 756, "height": 72.5,
    "title": {"text": ["Gated on", "CD44⁺ CD62L⁻ TCRb⁺ CD4⁺"], "anchor": "middle", "frame": "group", "fontSize": 30, "lineHeight": 40, "offset": 12},
    "data": {"values": [{"x1": 0, "y1": 0.91, "x2": 1, "y2": 0.96}]},
    "mark": {"type": "rule", "strokeWidth": 3.5, "color": "black"},
    "encoding": {"x": {"field": "x1", "type": "quantitative", "scale": {"domain": [0, 1], "nice": false, "zero": false}, "axis": null}, "x2": {"field": "x2"},
      "y": {"field": "y1", "type": "quantitative", "scale": {"domain": [0, 1], "nice": false, "zero": false}, "axis": null}, "y2": {"field": "y2"}}
   },
   {"hconcat": [
    {
     "width": 318, "height": 317,
     "view": {"stroke": "black", "strokeWidth": 2},
     "title": {"text": "GPR35 +/-", "anchor": "middle", "frame": "group", "fontSize": 30, "offset": 8, "dx": 12},
     "resolve": {"axis": {"x": "independent", "y": "independent"}},
     "layer": [
      {"data": {"name": "E1c"}, "mark": {"type": "square", "size": 110, "opacity": 1, "strokeWidth": 0},
       "encoding": {
        "x": {"field": "x", "type": "quantitative", "scale": {"domain": [0, 1024], "nice": false, "zero": false},
          "axis": {"orient": "bottom", "title": "Tbet-APC", "titleFontSize": 34, "titlePadding": 4, "domain": false, "tickWidth": 1.5, "tickSize": 11, "labelFontSize": 32, "labelPadding": 6,
            "values": [77, 347, 501, 878], "labelExpr": "datum.value==347?'0':datum.value==878?'10⁵':''"}},
        "y": {"field": "y", "type": "quantitative", "scale": {"domain": [0, 1024], "nice": false, "zero": false},
          "axis": {"orient": "left", "title": "CD44-FITC", "titleFontSize": 34, "titlePadding": 6, "domain": false, "tickWidth": 1.5, "tickSize": 10, "labelFontSize": 32, "labelPadding": 3,
            "values": [68, 233, 406, 681, 927], "labelExpr": "datum.value==927?'10⁵':datum.value==681?'10⁴':datum.value==406?'10³':datum.value==233?'0':''"}},
        "color": {"field": "d", "type": "ordinal", "scale": {"domain": [1,2,3,4,5,6,7,8], "range": ["#3b4fa3","#4179c9","#45b9e8","#7fc646","#cde23c","#fbe43a","#f7931e","#e31e1c"]}, "legend": null}
       }},
      {"data": {"name": "E1o"}, "mark": {"type": "circle", "size": 5, "color": "#222222", "opacity": 1},
       "encoding": {
        "x": {"field": "x", "type": "quantitative", "axis": {"orient": "bottom", "title": null, "labels": false, "domain": false, "tickWidth": 1.5, "tickSize": 6, "offset": 0,
            "values": [9,183,222,251,280,299,318,337,357,376,395,424,463,617,685,737,772,801,830,849,945,1013]}},
        "y": {"field": "y", "type": "quantitative", "axis": {"orient": "left", "title": null, "labels": false, "domain": false, "tickWidth": 1.5, "tickSize": 5, "offset": 0,
            "values": [170,200,215,225,241,251,266,296,489,537,572,598,620,638,654,668,755,798,829,853,872,889,903,916,1001]}}}},
      {"data": {"values": [{"x1": 563, "x2": 827, "y1": 369, "y2": 919}]}, "mark": {"type": "rect", "filled": false, "stroke": "black", "strokeWidth": 2},
       "encoding": {"x": {"field": "x1", "type": "quantitative", "axis": null}, "x2": {"field": "x2"}, "y": {"field": "y1", "type": "quantitative", "axis": null}, "y2": {"field": "y2"}}},
      {"data": {"values": [{"x": 720, "y": 272, "t": "5.36%"}]}, "mark": {"type": "text", "fontSize": 34, "baseline": "middle"},
       "encoding": {"x": {"field": "x", "type": "quantitative", "axis": null}, "y": {"field": "y", "type": "quantitative", "axis": null}, "text": {"field": "t"}}}
     ]
    },
    {
     "width": 317, "height": 317,
     "view": {"stroke": "black", "strokeWidth": 2},
     "title": {"text": "GPR35 -/-", "anchor": "middle", "frame": "group", "fontSize": 30, "offset": 4, "dx": 10},
     "resolve": {"axis": {"x": "independent", "y": "independent"}},
     "layer": [
      {"data": {"name": "E2c"}, "mark": {"type": "square", "size": 110, "opacity": 1, "strokeWidth": 0},
       "encoding": {
        "x": {"field": "x", "type": "quantitative", "scale": {"domain": [0, 1024], "nice": false, "zero": false},
          "axis": {"orient": "bottom", "title": "Tbet-APC", "titleFontSize": 34, "titlePadding": 8, "domain": false, "tickWidth": 1.5, "tickSize": 11, "labelFontSize": 32, "labelPadding": 8,
            "values": [72, 342, 496, 875], "labelExpr": "datum.value==342?'0':datum.value==875?'10⁵':''"}},
        "y": {"field": "y", "type": "quantitative", "scale": {"domain": [0, 1024], "nice": false, "zero": false},
          "axis": {"orient": "left", "title": "CD44-FITC", "titleFontSize": 34, "titlePadding": 6, "domain": false, "tickWidth": 1.5, "tickSize": 10, "labelFontSize": 32, "labelPadding": 3,
            "values": [71, 204, 404, 682, 927], "labelExpr": "datum.value==927?'10⁵':datum.value==682?'10⁴':datum.value==404?'10³':datum.value==204?'0':'-10³'"}},
        "color": {"field": "d", "type": "ordinal", "scale": {"domain": [1,2,3,4,5,6,7,8], "range": ["#3b4fa3","#4179c9","#45b9e8","#7fc646","#cde23c","#fbe43a","#f7931e","#e31e1c"]}, "legend": null}
       }},
      {"data": {"name": "E2o"}, "mark": {"type": "circle", "size": 5, "color": "#222222", "opacity": 1},
       "encoding": {
        "x": {"field": "x", "type": "quantitative", "axis": {"orient": "bottom", "title": null, "labels": false, "domain": false, "tickWidth": 1.5, "tickSize": 6, "offset": 0,
            "values": [4,178,217,246,275,294,313,332,352,371,390,419,458,612,680,732,767,796,825,844,940,1008]}},
        "y": {"field": "y", "type": "quantitative", "axis": {"orient": "left", "title": null, "labels": false, "domain": false, "tickWidth": 1.5, "tickSize": 5, "offset": 0,
            "values": [140,170,190,198,210,218,237,267,488,537,571,598,620,639,655,669,756,799,829,853,872,889,903,916,1001]}}}},
      {"data": {"values": [{"x1": 562, "x2": 827, "y1": 368, "y2": 916}]}, "mark": {"type": "rect", "filled": false, "stroke": "black", "strokeWidth": 2},
       "encoding": {"x": {"field": "x1", "type": "quantitative", "axis": null}, "x2": {"field": "x2"}, "y": {"field": "y1", "type": "quantitative", "axis": null}, "y2": {"field": "y2"}}},
      {"data": {"values": [{"x": 720, "y": 287, "t": "11.5%"}]}, "mark": {"type": "text", "fontSize": 34, "baseline": "middle"},
       "encoding": {"x": {"field": "x", "type": "quantitative", "axis": null}, "y": {"field": "y", "type": "quantitative", "axis": null}, "text": {"field": "t"}}}
     ]
    }
   ], "spacing": 121, "bounds": "flush"}
  ],
  "spacing": 0, "bounds": "flush"
 },
 {"width": 992, "height": 2, "data": {"values": [{"a": 0}]}, "mark": {"type": "point", "opacity": 0}, "encoding": {}},
 {
  "width": 423, "height": 370,
  "title": {"text": "F", "anchor": "start", "frame": "group", "dx": -189, "fontSize": 32, "offset": 79},
  "layer": [
   {"data": {"name": "F_bar"}, "mark": {"type": "bar", "fill": "white", "stroke": "black", "strokeWidth": 3, "width": 42},
    "encoding": {
     "x": {"field": "g", "type": "nominal", "scale": {"domain": ["f1","f2"], "range": [0, 162], "paddingInner": 0.382, "paddingOuter": 0.382},
       "axis": {"title": null, "labelAngle": -45, "labelAlign": "right", "labelBaseline": "top", "labelFontSize": 28, "labelFontStyle": "italic", "labelPadding": 18, "labelOffset": 8, "tickSize": 12,
         "labelExpr": "datum.value=='f1'?'GPR35 +/-':'GPR35 -/-'"}},
     "y": {"field": "m", "type": "quantitative", "scale": {"domain": [0, 20], "range": [370, 66], "nice": false, "zero": false},
       "axis": {"title": ["% of CD44⁺ CD4⁺", "TCRb⁺ CD62L⁻"], "values": [0,5,10,15,20], "labelFontSize": 30, "titleFontSize": 30, "titlePadding": 12, "titleLineHeight": 42}}
    }},
   {"data": {"name": "F_mean"}, "mark": {"type": "tick", "orient": "horizontal", "size": 40, "thickness": 3}, "encoding": {"x": {"field": "g", "type": "nominal"}, "y": {"field": "m", "type": "quantitative"}}},
   {"data": {"name": "F_pts"}, "mark": {"type": "circle", "size": 380, "stroke": "black", "strokeWidth": 2.5, "opacity": 1},
    "encoding": {"x": {"field": "g", "type": "nominal"}, "xOffset": {"field": "j", "type": "quantitative", "scale": {"domain": [-1, 1], "range": [3, 39]}}, "y": {"field": "v", "type": "quantitative"},
      "fill": {"field": "g", "type": "nominal", "scale": {"domain": ["f1","f2"], "range": ["black","white"]}, "legend": null}}},
   {"data": {"name": "F_bar"}, "mark": {"type": "rule", "strokeWidth": 3}, "encoding": {"x": {"field": "g", "type": "nominal"}, "y": {"field": "lo", "type": "quantitative"}, "y2": {"field": "hi"}}},
   {"data": {"name": "F_bar"}, "mark": {"type": "tick", "orient": "horizontal", "size": 26, "thickness": 3}, "encoding": {"x": {"field": "g", "type": "nominal"}, "y": {"field": "lo", "type": "quantitative"}}},
   {"data": {"name": "F_bar"}, "mark": {"type": "tick", "orient": "horizontal", "size": 26, "thickness": 3}, "encoding": {"x": {"field": "g", "type": "nominal"}, "y": {"field": "hi", "type": "quantitative"}}},
   {"data": {"name": "F_mean"}, "mark": {"type": "rule", "strokeWidth": 3}, "encoding": {"x": {"field": "g", "type": "nominal"}, "y": {"field": "lo", "type": "quantitative"}, "y2": {"field": "hi"}}},
   {"data": {"name": "F_mean"}, "mark": {"type": "tick", "orient": "horizontal", "size": 26, "thickness": 3}, "encoding": {"x": {"field": "g", "type": "nominal"}, "y": {"field": "lo", "type": "quantitative"}}},
   {"data": {"name": "F_mean"}, "mark": {"type": "tick", "orient": "horizontal", "size": 26, "thickness": 3}, "encoding": {"x": {"field": "g", "type": "nominal"}, "y": {"field": "hi", "type": "quantitative"}}},
   {"data": {"values": [{"g1":"f1","g2":"f2","top":19.3,"b1":18.3,"b2":12.5,"s":"*"}]}, "layer": [
     {"mark": {"type": "rule", "strokeWidth": 3}, "encoding": {"x": {"field": "g1", "type": "nominal"}, "x2": {"field": "g2"}, "y": {"field": "top", "type": "quantitative"}}},
     {"mark": {"type": "rule", "strokeWidth": 3}, "encoding": {"x": {"field": "g1", "type": "nominal"}, "y": {"field": "top", "type": "quantitative"}, "y2": {"field": "b1"}}},
     {"mark": {"type": "rule", "strokeWidth": 3}, "encoding": {"x": {"field": "g2", "type": "nominal"}, "y": {"field": "top", "type": "quantitative"}, "y2": {"field": "b2"}}},
     {"mark": {"type": "text", "fontSize": 36, "fontWeight": "bold", "baseline": "alphabetic", "dy": 3, "dx": 34}, "encoding": {"x": {"field": "g1", "type": "nominal"}, "y": {"field": "top", "type": "quantitative"}, "text": {"field": "s"}}}
   ]},
   {"data": {"values": [{"g":"f1","v":22.04,"s":"IL-4⁺"}]}, "mark": {"type": "text", "fontSize": 30, "baseline": "alphabetic", "dx": 34},
    "encoding": {"x": {"field": "g", "type": "nominal"}, "y": {"field": "v", "type": "quantitative"}, "text": {"field": "s"}}}
  ]
 },
 {
  "width": 160, "height": 362,
  "title": {"text": "G", "anchor": "start", "frame": "group", "dx": -234, "fontSize": 32, "offset": 85},
  "layer": [
   {"data": {"name": "G_mean"}, "mark": {"type": "tick", "orient": "horizontal", "size": 40, "thickness": 3},
    "encoding": {
     "x": {"field": "g", "type": "nominal", "scale": {"domain": ["f1","f2"], "range": [0, 161], "paddingInner": 0.5, "paddingOuter": 0.417},
       "axis": {"title": null, "labelAngle": -45, "labelAlign": "right", "labelBaseline": "top", "labelFontSize": 28, "labelFontStyle": "italic", "labelPadding": 18, "labelOffset": 8, "tickSize": 12,
         "labelExpr": "datum.value=='f1'?'GPR35 +/-':'GPR35 -/-'"}},
     "y": {"field": "m", "type": "quantitative", "scale": {"domain": [0, 60], "range": [362, 41], "nice": false, "zero": false},
       "axis": {"title": ["GATA3⁺", "(% of CD44⁺ CD4⁺", "TCRb⁺ CD62L⁻)"], "values": [0,20,40,60], "labelFontSize": 30, "titleFontSize": 30, "titlePadding": 13, "titleLineHeight": 42}}
    }},
   {"data": {"name": "G_pts"}, "mark": {"type": "circle", "size": 380, "stroke": "black", "strokeWidth": 2.5, "opacity": 1},
    "encoding": {"x": {"field": "g", "type": "nominal"}, "xOffset": {"field": "j", "type": "quantitative", "scale": {"domain": [-1, 1], "range": [-1.25, 34.75]}}, "y": {"field": "v", "type": "quantitative"},
      "fill": {"field": "g", "type": "nominal", "scale": {"domain": ["f1","f2"], "range": ["black","white"]}, "legend": null}}},
   {"data": {"name": "G_mean"}, "mark": {"type": "rule", "strokeWidth": 3}, "encoding": {"x": {"field": "g", "type": "nominal"}, "y": {"field": "lo", "type": "quantitative"}, "y2": {"field": "hi"}}},
   {"data": {"name": "G_mean"}, "mark": {"type": "tick", "orient": "horizontal", "size": 26, "thickness": 3}, "encoding": {"x": {"field": "g", "type": "nominal"}, "y": {"field": "lo", "type": "quantitative"}}},
   {"data": {"name": "G_mean"}, "mark": {"type": "tick", "orient": "horizontal", "size": 26, "thickness": 3}, "encoding": {"x": {"field": "g", "type": "nominal"}, "y": {"field": "hi", "type": "quantitative"}}}
  ]
 }
], "spacing": 0, "bounds": "flush"},
{"hconcat": [
 {"width": 52, "height": 2, "data": {"values": [{"a": 0}]}, "mark": {"type": "point", "opacity": 0}, "encoding": {}},
 {
  "width": 485, "height": 320,
  "title": {"text": "H", "anchor": "start", "frame": "group", "dx": -168, "fontSize": 32, "offset": 8},
  "layer": [
   {"data": {"name": "H_bar"}, "mark": {"type": "bar", "fill": "white", "stroke": "black", "strokeWidth": 3, "width": 49},
    "encoding": {
     "x": {"field": "g", "type": "nominal", "scale": {"domain": ["h1","h2"], "range": [0, 185.5], "paddingInner": 0.384, "paddingOuter": 0.358},
       "axis": {"title": null, "labelAngle": -45, "labelAlign": "right", "labelBaseline": "middle", "labelFontSize": 28, "labelPadding": 18, "tickSize": 12, "labelLineHeight": 31,
         "labelOffset": {"condition": {"test": "datum.value=='h2'", "value": 13}, "value": -30},
         "labelExpr": "datum.value=='h1'?['GPR35⁺/⁺ +','ΔdblGATA1']:['GPR35⁻/⁻ +','ΔdblGATA1']"}},
     "y": {"field": "m", "type": "quantitative", "scale": {"domain": [0, 8], "range": [320, 14], "nice": false, "zero": false},
       "axis": {"title": ["% of CD44⁺ CD4⁺", "TCRb⁺ CD62L⁻"], "values": [0,2,4,6,8], "labelFontSize": 32, "titleFontSize": 31, "titlePadding": 28, "titleLineHeight": 42}}
    }},
   {"data": {"name": "H_pts"}, "mark": {"type": "circle", "size": 320, "stroke": "black", "strokeWidth": 2.5, "opacity": 1},
    "encoding": {"x": {"field": "g", "type": "nominal"}, "xOffset": {"field": "j", "type": "quantitative", "scale": {"domain": [-1, 1], "range": [6.5, 42.5]}}, "y": {"field": "v", "type": "quantitative"},
      "fill": {"field": "g", "type": "nominal", "scale": {"domain": ["h1","h2"], "range": ["black","white"]}, "legend": null}}},
   {"data": {"name": "H_bar"}, "mark": {"type": "rule", "strokeWidth": 3}, "encoding": {"x": {"field": "g", "type": "nominal"}, "y": {"field": "lo", "type": "quantitative"}, "y2": {"field": "hi"}}},
   {"data": {"name": "H_bar"}, "mark": {"type": "tick", "orient": "horizontal", "size": 28, "thickness": 3}, "encoding": {"x": {"field": "g", "type": "nominal"}, "y": {"field": "lo", "type": "quantitative"}}},
   {"data": {"name": "H_bar"}, "mark": {"type": "tick", "orient": "horizontal", "size": 28, "thickness": 3}, "encoding": {"x": {"field": "g", "type": "nominal"}, "y": {"field": "hi", "type": "quantitative"}}},
   {"data": {"values": [{"g1":"h1","g2":"h2","top":8.0,"b1":7.43,"b2":3.47,"s":"*"}]}, "layer": [
     {"mark": {"type": "rule", "strokeWidth": 3}, "encoding": {"x": {"field": "g1", "type": "nominal"}, "x2": {"field": "g2"}, "y": {"field": "top", "type": "quantitative"}}},
     {"mark": {"type": "rule", "strokeWidth": 3}, "encoding": {"x": {"field": "g1", "type": "nominal"}, "y": {"field": "top", "type": "quantitative"}, "y2": {"field": "b1"}}},
     {"mark": {"type": "rule", "strokeWidth": 3}, "encoding": {"x": {"field": "g2", "type": "nominal"}, "y": {"field": "top", "type": "quantitative"}, "y2": {"field": "b2"}}},
     {"mark": {"type": "text", "fontSize": 36, "fontWeight": "bold", "baseline": "alphabetic", "dy": 3, "dx": 39.75}, "encoding": {"x": {"field": "g1", "type": "nominal"}, "y": {"field": "top", "type": "quantitative"}, "text": {"field": "s"}}}
   ]},
   {"data": {"values": [{"g":"h1","v":9.78,"s":"IL-4⁺"}]}, "mark": {"type": "text", "fontSize": 30, "baseline": "alphabetic", "dx": 38},
    "encoding": {"x": {"field": "g", "type": "nominal"}, "y": {"field": "v", "type": "quantitative"}, "text": {"field": "s"}}}
  ]
 },
 {
  "width": 525.5, "height": 328,
  "title": {"text": "I", "anchor": "start", "frame": "group", "dx": -152, "fontSize": 32, "offset": 16},
  "layer": [
   {"data": {"name": "I_bar"}, "mark": {"type": "bar", "fill": "white", "stroke": "black", "strokeWidth": 3, "width": 45},
    "encoding": {
     "x": {"field": "g", "type": "nominal", "scale": {"domain": ["h1","h2"], "range": [0, 175], "paddingInner": 0.408, "paddingOuter": 0.355},
       "axis": {"title": null, "labelAngle": -45, "labelAlign": "right", "labelBaseline": "middle", "labelFontSize": 28, "labelPadding": 18, "tickSize": 12, "labelLineHeight": 31,
         "labelOffset": {"condition": {"test": "datum.value=='h2'", "value": 13}, "value": -30},
         "labelExpr": "datum.value=='h1'?['GPR35⁺/⁺ +','ΔdblGATA1']:['GPR35⁻/⁻ +','ΔdblGATA1']"}},
     "y": {"field": "m", "type": "quantitative", "scale": {"domain": [0, 8], "range": [328, 8], "nice": false, "zero": false},
       "axis": {"title": ["% of CD44⁺ CD4⁺", "TCRb⁺ CD62L⁻"], "values": [0,2,4,6,8], "labelFontSize": 32, "titleFontSize": 31, "titlePadding": 35, "titleLineHeight": 42}}
    }},
   {"data": {"name": "I_mean"}, "mark": {"type": "tick", "orient": "horizontal", "size": 40, "thickness": 3}, "encoding": {"x": {"field": "g", "type": "nominal"}, "y": {"field": "m", "type": "quantitative"}}},
   {"data": {"name": "I_pts"}, "mark": {"type": "circle", "size": 320, "stroke": "black", "strokeWidth": 2.5, "opacity": 1},
    "encoding": {"x": {"field": "g", "type": "nominal"}, "xOffset": {"field": "j", "type": "quantitative", "scale": {"domain": [-1, 1], "range": [4.5, 40.5]}}, "y": {"field": "v", "type": "quantitative"},
      "fill": {"field": "g", "type": "nominal", "scale": {"domain": ["h1","h2"], "range": ["black","white"]}, "legend": null}}},
   {"data": {"name": "I_bar"}, "mark": {"type": "rule", "strokeWidth": 3}, "encoding": {"x": {"field": "g", "type": "nominal"}, "y": {"field": "lo", "type": "quantitative"}, "y2": {"field": "hi"}}},
   {"data": {"name": "I_bar"}, "mark": {"type": "tick", "orient": "horizontal", "size": 28, "thickness": 3}, "encoding": {"x": {"field": "g", "type": "nominal"}, "y": {"field": "lo", "type": "quantitative"}}},
   {"data": {"name": "I_bar"}, "mark": {"type": "tick", "orient": "horizontal", "size": 28, "thickness": 3}, "encoding": {"x": {"field": "g", "type": "nominal"}, "y": {"field": "hi", "type": "quantitative"}}},
   {"data": {"name": "I_mean"}, "mark": {"type": "rule", "strokeWidth": 3}, "encoding": {"x": {"field": "g", "type": "nominal"}, "y": {"field": "lo", "type": "quantitative"}, "y2": {"field": "hi"}}},
   {"data": {"name": "I_mean"}, "mark": {"type": "tick", "orient": "horizontal", "size": 28, "thickness": 3}, "encoding": {"x": {"field": "g", "type": "nominal"}, "y": {"field": "lo", "type": "quantitative"}}},
   {"data": {"name": "I_mean"}, "mark": {"type": "tick", "orient": "horizontal", "size": 28, "thickness": 3}, "encoding": {"x": {"field": "g", "type": "nominal"}, "y": {"field": "hi", "type": "quantitative"}}},
   {"data": {"values": [{"g1":"h1","g2":"h2","top":7.14,"b1":5.66,"b2":6.61,"s":"*"}]}, "layer": [
     {"mark": {"type": "rule", "strokeWidth": 3}, "encoding": {"x": {"field": "g1", "type": "nominal"}, "x2": {"field": "g2"}, "y": {"field": "top", "type": "quantitative"}}},
     {"mark": {"type": "rule", "strokeWidth": 3}, "encoding": {"x": {"field": "g1", "type": "nominal"}, "y": {"field": "top", "type": "quantitative"}, "y2": {"field": "b1"}}},
     {"mark": {"type": "rule", "strokeWidth": 3}, "encoding": {"x": {"field": "g2", "type": "nominal"}, "y": {"field": "top", "type": "quantitative"}, "y2": {"field": "b2"}}},
     {"mark": {"type": "text", "fontSize": 36, "fontWeight": "bold", "baseline": "alphabetic", "dy": 3, "dx": 38}, "encoding": {"x": {"field": "g1", "type": "nominal"}, "y": {"field": "top", "type": "quantitative"}, "text": {"field": "s"}}}
   ]},
   {"data": {"values": [{"g":"h1","v":9.5,"s":"IFNg⁺"}]}, "mark": {"type": "text", "fontSize": 30, "baseline": "alphabetic", "dx": 39},
    "encoding": {"x": {"field": "g", "type": "nominal"}, "y": {"field": "v", "type": "quantitative"}, "text": {"field": "s"}}}
  ]
 },
 {
  "width": 190, "height": 336,
  "title": {"text": "J", "anchor": "start", "frame": "group", "dx": -202, "fontSize": 32, "offset": 61},
  "layer": [
   {"data": {"name": "J_bar"}, "mark": {"type": "bar", "fill": "white", "stroke": "black", "strokeWidth": 3, "width": 48},
    "encoding": {
     "x": {"field": "g", "type": "nominal", "scale": {"domain": ["h1","h2"], "range": [0, 183], "paddingInner": 0.385, "paddingOuter": 0.365},
       "axis": {"title": null, "labelAngle": -45, "labelAlign": "right", "labelBaseline": "middle", "labelFontSize": 28, "labelPadding": 24, "tickSize": 12, "labelLineHeight": 31,
         "labelOffset": {"condition": {"test": "datum.value=='h2'", "value": 21}, "value": -22},
         "labelExpr": "datum.value=='h1'?['GPR35⁺/⁺ +','ΔdblGATA1']:['GPR35⁻/⁻ +','ΔdblGATA1']"}},
     "y": {"field": "m", "type": "quantitative", "scale": {"domain": [0, 25], "range": [336, 0], "nice": false, "zero": false},
       "axis": {"title": ["Tbet⁺", "(% of CD44⁺ CD4⁺", "TCRb⁺ CD62L⁻)"], "values": [0,5,10,15,20,25], "labelFontSize": 32, "titleFontSize": 31, "titlePadding": 27, "titleLineHeight": 42}}
    }},
   {"data": {"name": "J_pts"}, "mark": {"type": "circle", "size": 320, "stroke": "black", "strokeWidth": 2.5, "opacity": 1},
    "encoding": {"x": {"field": "g", "type": "nominal"}, "xOffset": {"field": "j", "type": "quantitative", "scale": {"domain": [-1, 1], "range": [6, 42]}}, "y": {"field": "v", "type": "quantitative"},
      "fill": {"field": "g", "type": "nominal", "scale": {"domain": ["h1","h2"], "range": ["black","white"]}, "legend": null}}},
   {"data": {"name": "J_bar"}, "mark": {"type": "rule", "strokeWidth": 3}, "encoding": {"x": {"field": "g", "type": "nominal"}, "y": {"field": "lo", "type": "quantitative"}, "y2": {"field": "hi"}}},
   {"data": {"name": "J_bar"}, "mark": {"type": "tick", "orient": "horizontal", "size": 28, "thickness": 3}, "encoding": {"x": {"field": "g", "type": "nominal"}, "y": {"field": "lo", "type": "quantitative"}}},
   {"data": {"name": "J_bar"}, "mark": {"type": "tick", "orient": "horizontal", "size": 28, "thickness": 3}, "encoding": {"x": {"field": "g", "type": "nominal"}, "y": {"field": "hi", "type": "quantitative"}}},
   {"data": {"values": [{"g1":"h1","g2":"h2","top":25.1,"b1":8.4,"b2":23.5,"s":"*"}]}, "layer": [
     {"mark": {"type": "rule", "strokeWidth": 3}, "encoding": {"x": {"field": "g1", "type": "nominal"}, "x2": {"field": "g2"}, "y": {"field": "top", "type": "quantitative"}}},
     {"mark": {"type": "rule", "strokeWidth": 3}, "encoding": {"x": {"field": "g1", "type": "nominal"}, "y": {"field": "top", "type": "quantitative"}, "y2": {"field": "b1"}}},
     {"mark": {"type": "rule", "strokeWidth": 3}, "encoding": {"x": {"field": "g2", "type": "nominal"}, "y": {"field": "top", "type": "quantitative"}, "y2": {"field": "b2"}}},
     {"mark": {"type": "text", "fontSize": 36, "fontWeight": "bold", "baseline": "alphabetic", "dy": 3, "dx": 39}, "encoding": {"x": {"field": "g1", "type": "nominal"}, "y": {"field": "top", "type": "quantitative"}, "text": {"field": "s"}}}
   ]}
  ]
 }
], "spacing": 0, "bounds": "flush"}
], "spacing": 651, "bounds": "flush"}
]
}
